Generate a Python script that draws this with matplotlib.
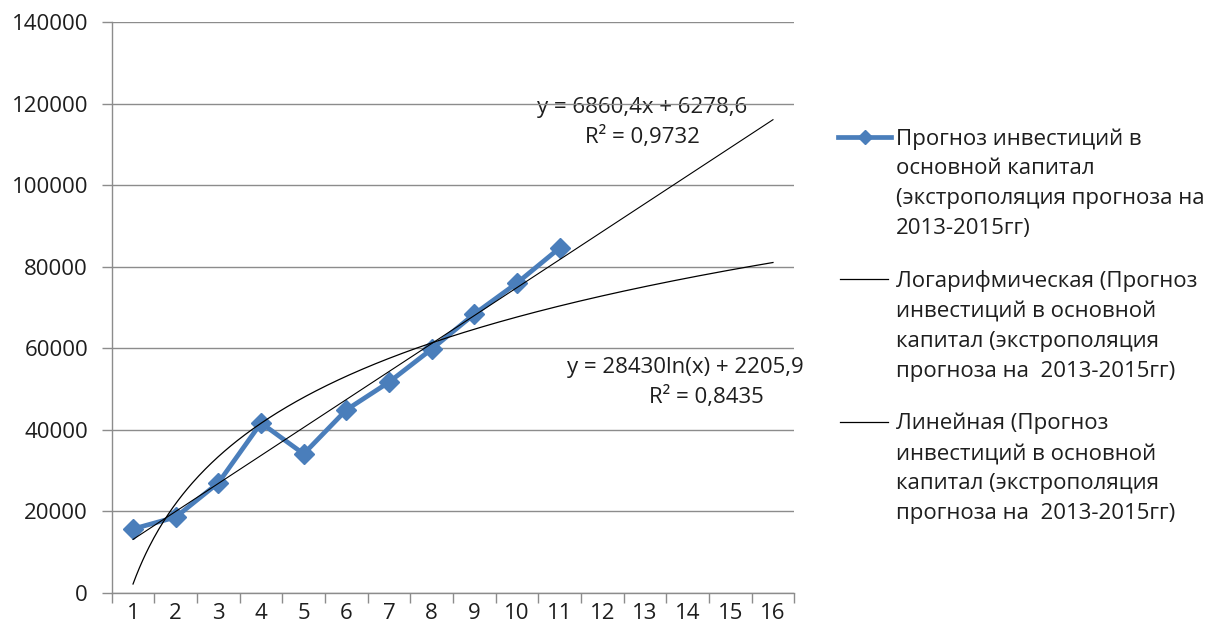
import numpy as np
import matplotlib
matplotlib.use("Agg")
import matplotlib.pyplot as plt
from matplotlib.lines import Line2D

plt.rcParams['font.family'] = ['Open Sans', 'DejaVu Sans']

# periods (indexed 1..16 on the category axis)
periods = np.arange(1, 17)
obs_x = np.arange(1, 12)
investments = [15700, 18600, 27000, 41700, 34100, 44900, 51700, 59800, 68400, 76000, 84600]

# trendline coefficients
lin_slope, lin_intercept, lin_r2 = 6860.4, 6278.6, 0.9732
log_coef, log_intercept, log_r2 = 28430, 2205.9, 0.8435

y_ticks = [0, 20000, 40000, 60000, 80000, 100000, 120000, 140000]

series_label = "Прогноз инвестиций в\nосновной капитал\n(экстрополяция прогноза на\n2013-2015гг)"
log_label = "Логарифмическая (Прогноз\nинвестиций в основной\nкапитал (экстрополяция\nпрогноза на  2013-2015гг)"
lin_label = "Линейная (Прогноз\nинвестиций в основной\nкапитал (экстрополяция\nпрогноза на  2013-2015гг)"

W, H = 1216, 636
fig = plt.figure(figsize=(W / 100, H / 100), dpi=100)
ax = fig.add_axes([111.7 / W, 43 / H, (794.3 - 111.7) / W, 571 / H])

blue = '#4A7EBB'
grid_c = '#8c8c8c'
txt_c = '#1e1e1e'
fs = 16

ax.plot(obs_x, investments, color=blue, lw=3.4, marker='D', ms=10.5,
        mfc=blue, mec=blue, zorder=3, solid_joinstyle='miter')

xl = np.linspace(1, 16, 400)
ax.plot(xl, lin_slope * xl + lin_intercept, color='black', lw=0.8, zorder=4)
ax.plot(xl, log_coef * np.log(xl) + log_intercept, color='black', lw=0.9, zorder=4)

ax.set_xlim(0.5, 16.5)
ax.set_ylim(0, 140000)
ax.set_yticks(y_ticks)
ax.set_yticklabels([str(v) for v in y_ticks])
ax.set_xticks(periods)
ax.set_xticklabels([str(p) for p in periods])
ax.set_xticks(np.arange(0.5, 17, 1), minor=True)

ax.grid(axis='y', color=grid_c, lw=1.0, zorder=0)
for s in ['top', 'right']:
    ax.spines[s].set_visible(False)
for s in ['left', 'bottom']:
    ax.spines[s].set_color(grid_c)
    ax.spines[s].set_linewidth(1.0)
ax.tick_params(axis='y', length=7, color=grid_c, width=1.0, labelsize=fs,
               labelcolor=txt_c, pad=10)
ax.tick_params(axis='x', which='major', length=0, labelsize=fs, labelcolor=txt_c, pad=7)
ax.tick_params(axis='x', which='minor', length=7, color=grid_c, width=1.0)

ax.text(12.93, 119100, "y = 6860,4x + 6278,6", ha='center', va='center',
        fontsize=fs, color=txt_c, zorder=1)
ax.text(12.93, 111800, "R² = 0,9732", ha='center', va='center',
        fontsize=fs, color=txt_c, zorder=1)
ax.text(13.94, 55400, "y = 28430ln(x) + 2205,9", ha='center', va='center',
        fontsize=fs, color=txt_c, zorder=1)
ax.text(14.43, 48050, "R² = 0,8435", ha='center', va='center',
        fontsize=fs, color=txt_c, zorder=1)

# legend drawn in figure pixel coordinates
def fx(px):
    return px / W

def fy(py):
    return 1 - py / H

entries = [
    (137, series_label, 'series'),
    (279, log_label, 'trend'),
    (422, lin_label, 'trend'),
]
for py, label, kind in entries:
    if kind == 'series':
        fig.add_artist(Line2D([fx(838), fx(891)], [fy(py), fy(py)],
                              color=blue, lw=3.4))
        fig.add_artist(Line2D([fx(864.5)], [fy(py)], linestyle='none', marker='D',
                              ms=7.5, mfc=blue, mec=blue))
    else:
        fig.add_artist(Line2D([fx(840), fx(888)], [fy(py), fy(py)],
                              color='black', lw=0.9))
    fig.text(fx(896), fy(py - 9), label, ha='left', va='top', fontsize=fs,
             color=txt_c, linespacing=1.56)

fig.savefig('out.png', dpi=100)
